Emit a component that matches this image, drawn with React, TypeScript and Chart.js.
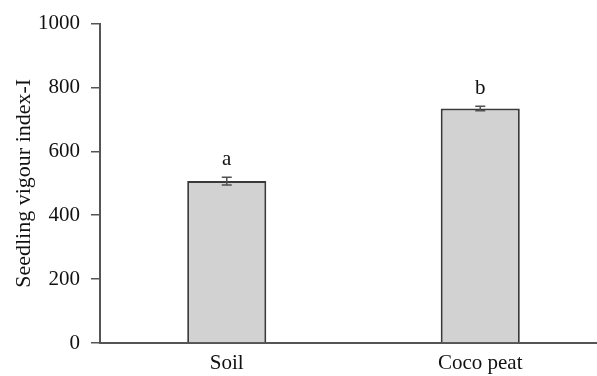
import React, { useEffect, useRef } from "react";
import { Chart, registerables } from "chart.js";

Chart.register(...registerables);

const categories = ["Soil", "Coco peat"];
const values = [507, 734];
const errors = [12, 7];
const letters = ["a", "b"];
const yTicks = [0, 200, 400, 600, 800, 1000];

const FONT = '"Liberation Serif", "Times New Roman", serif';
const AXIS = "#555555";
const TEXT = "#111111";

const errorPlugin = {
  id: "errLetters",
  afterDatasetsDraw(chart: any) {
    const ctx = chart.ctx;
    const x = chart.scales.x;
    const y = chart.scales.y;
    ctx.save();
    values.forEach((v, i) => {
      const cx = x.getPixelForValue(i);
      const top = y.getPixelForValue(v + errors[i]);
      const bot = y.getPixelForValue(v - errors[i]);
      ctx.strokeStyle = "#505050";
      ctx.lineWidth = 1.5;
      ctx.beginPath();
      ctx.moveTo(cx, top);
      ctx.lineTo(cx, bot);
      ctx.moveTo(cx - 5, top);
      ctx.lineTo(cx + 5, top);
      ctx.moveTo(cx - 5, bot);
      ctx.lineTo(cx + 5, bot);
      ctx.stroke();
      ctx.fillStyle = TEXT;
      ctx.font = `21px ${FONT}`;
      ctx.textAlign = "center";
      ctx.textBaseline = "alphabetic";
      ctx.fillText(letters[i], cx, top - 12);
    });
    ctx.restore();
  },
};

export default function App() {
  const ref = useRef<HTMLCanvasElement>(null);
  useEffect(() => {
    document.body.style.margin = "0";
    document.body.style.overflow = "hidden";
    const chart = new Chart(ref.current!, {
      type: "bar",
      data: {
        labels: categories,
        datasets: [
          {
            data: values,
            backgroundColor: "#d2d2d2",
            borderColor: "#3a3a3a",
            borderWidth: 2,
            barPercentage: 0.312,
            categoryPercentage: 1,
          },
        ],
      },
      options: {
        animation: false,
        responsive: false,
        maintainAspectRatio: false,
        layout: { padding: { top: 23, left: 0, right: 3, bottom: 0 } },
        plugins: { legend: { display: false }, tooltip: { enabled: false } },
        scales: {
          x: {
            grid: { display: false },
            border: { display: true, color: AXIS, width: 2 },
            ticks: { color: TEXT, font: { family: FONT, size: 21 }, padding: 0 },
            afterFit: (s: any) => {
              s.height = 33;
            },
          },
          y: {
            min: 0,
            max: 1000,
            afterBuildTicks: (s: any) => {
              s.ticks = yTicks.map((v) => ({ value: v }));
            },
            grid: {
              display: true,
              drawOnChartArea: false,
              drawTicks: true,
              tickLength: 9,
              color: AXIS,
              lineWidth: 1.5,
            },
            border: { display: true, color: AXIS, width: 2 },
            ticks: {
              color: TEXT,
              font: { family: FONT, size: 21 },
              padding: 11,
              callback: (v: any) => String(v),
            },
            title: {
              display: true,
              text: "Seedling vigour index-I",
              color: TEXT,
              font: { family: FONT, size: 22 },
              padding: { top: 11, bottom: 0 },
            },
            afterFit: (s: any) => {
              s.width = 100;
            },
          },
        },
      },
      plugins: [errorPlugin],
    });
    return () => chart.destroy();
  }, []);
  return (
    <div style={{ position: "absolute", left: 0, top: 0, width: 610, height: 376 }}>
      <canvas ref={ref} width={610} height={376} />
    </div>
  );
}
